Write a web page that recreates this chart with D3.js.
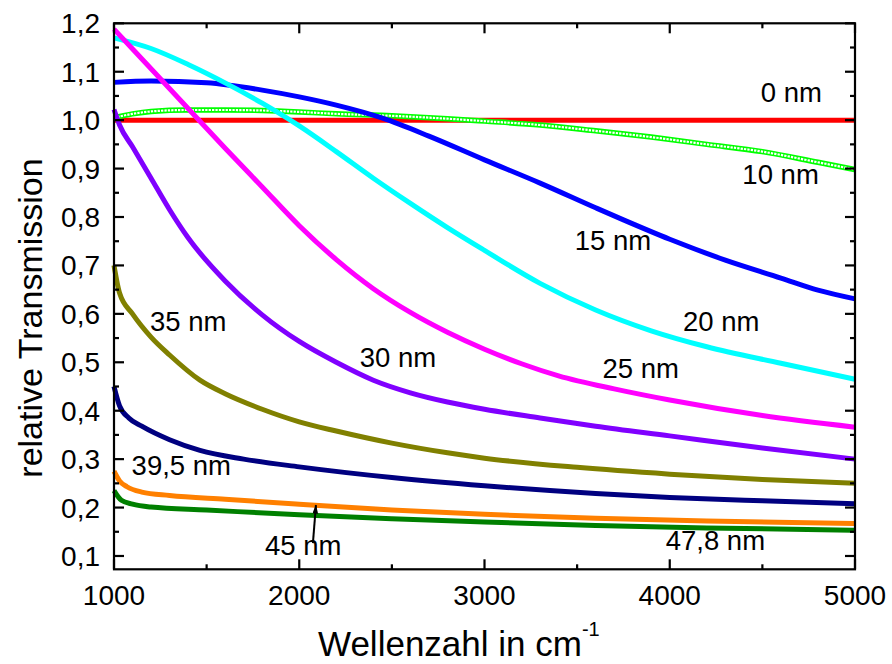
<!DOCTYPE html>
<html>
<head>
<meta charset="utf-8">
<script src="https://cdn.jsdelivr.net/npm/d3@7"></script>
<style>
  html, body { margin: 0; padding: 0; background: #fff; }
  svg { display: block; font-family: "Liberation Sans", Arial, sans-serif; }
</style>
</head>
<body>
<svg id="chart" width="892" height="664"></svg>
<script>
// Wavenumber (cm^-1) and relative transmission for each layer thickness
const wn0  = [1000, 2000, 3000, 4000, 5000];
const t0   = [1.0, 1.0, 1.0, 1.0, 1.0];

const wn10 = [1000, 1100, 1200, 1400, 1600, 1800, 2000, 2200, 2500, 2800, 3000, 3300, 3600, 3900, 4200, 4500, 4800, 5000];
const t10  = [1.005, 1.013, 1.018, 1.021, 1.021, 1.02, 1.017, 1.013, 1.009, 1.003, 0.998, 0.99, 0.978, 0.965, 0.95, 0.935, 0.913, 0.898];

const wn15 = [1000, 1200, 1500, 1800, 2000, 2200, 2450, 2700, 3000, 3300, 3600, 3750, 4000, 4300, 4600, 4800, 5000];
const t15  = [1.078, 1.081, 1.077, 1.062, 1.048, 1.031, 1.004, 0.967, 0.918, 0.87, 0.819, 0.794, 0.754, 0.711, 0.674, 0.649, 0.631];

const wn20 = [1000, 1200, 1400, 1600, 1800, 2000, 2200, 2400, 2600, 2800, 3000, 3300, 3600, 3900, 4200, 4600, 5000];
const t20  = [1.17, 1.148, 1.115, 1.077, 1.035, 0.988, 0.935, 0.88, 0.828, 0.778, 0.731, 0.663, 0.608, 0.565, 0.532, 0.498, 0.465];

const wn25 = [1000, 1200, 1400, 1600, 1800, 2000, 2200, 2400, 2600, 2800, 3000, 3200, 3400, 3700, 4000, 4500, 5000];
const t25  = [1.188, 1.106, 1.024, 0.942, 0.862, 0.782, 0.712, 0.652, 0.603, 0.562, 0.527, 0.497, 0.472, 0.445, 0.422, 0.39, 0.366];

const wn30 = [1000, 1030, 1100, 1200, 1300, 1400, 1600, 1800, 2000, 2200, 2400, 2600, 2800, 3000, 3300, 3600, 4000, 4500, 5000];
const t30  = [1.022, 0.99, 0.945, 0.88, 0.815, 0.757, 0.668, 0.598, 0.543, 0.5, 0.463, 0.437, 0.418, 0.403, 0.385, 0.368, 0.348, 0.323, 0.3];

const wn35 = [1000, 1030, 1100, 1200, 1300, 1464, 1600, 1800, 2000, 2200, 2500, 2800, 3000, 3500, 4000, 4500, 5000];
const t35  = [0.7, 0.643, 0.6, 0.552, 0.515, 0.463, 0.435, 0.403, 0.377, 0.358, 0.333, 0.313, 0.302, 0.283, 0.269, 0.258, 0.25];

const wn39 = [1000, 1030, 1080, 1150, 1300, 1464, 1700, 2000, 2500, 3000, 3600, 4000, 4500, 5000];
const t39  = [0.45, 0.41, 0.385, 0.368, 0.34, 0.318, 0.3, 0.284, 0.262, 0.245, 0.229, 0.221, 0.214, 0.208];

const wn45 = [1000, 1030, 1070, 1150, 1300, 1600, 2000, 2500, 3000, 3600, 4200, 5000];
const t45  = [0.275, 0.255, 0.243, 0.232, 0.225, 0.217, 0.207, 0.195, 0.186, 0.178, 0.172, 0.167];

const wn478 = [1000, 1040, 1100, 1200, 1500, 2000, 2500, 3000, 3600, 4200, 5000];
const t478  = [0.235, 0.215, 0.207, 0.201, 0.195, 0.185, 0.177, 0.17, 0.163, 0.158, 0.153];

// Series: name, data, colour, label text and label anchor (x value, y value)
const seriesNames  = ["0 nm", "10 nm", "15 nm", "20 nm", "25 nm", "30 nm", "35 nm", "39,5 nm", "45 nm", "47,8 nm"];
const seriesX      = [wn0, wn10, wn15, wn20, wn25, wn30, wn35, wn39, wn45, wn478];
const seriesY      = [t0, t10, t15, t20, t25, t30, t35, t39, t45, t478];
const seriesColors = ["#ff0000", "#00ee00", "#0000ff", "#00ffff", "#ff00ff", "#8000ff", "#808000", "#000080", "#ff8000", "#008000"];
const labelX       = [4491, 4392, 3487, 4072, 3637, 2327, 1194, 1095, 1815, 3978];
const labelY       = [1.0375, 0.868, 0.732, 0.565, 0.467, 0.490, 0.565, 0.267, 0.102, 0.112];

// Axis ticks
const xTicks = [1000, 2000, 3000, 4000, 5000];
const xMinor = [1500, 2500, 3500, 4500];
const yTicks = [0.1, 0.2, 0.3, 0.4, 0.5, 0.6, 0.7, 0.8, 0.9, 1.0, 1.1, 1.2];
const yMinor = [0.15, 0.25, 0.35, 0.45, 0.55, 0.65, 0.75, 0.85, 0.95, 1.05, 1.15];

// Arrow pointing from the "45 nm" label to its curve
const arrowX = 2090;
const arrowY = 0.205;

const svg = d3.select("#chart");
const pLeft = 114, pRight = 855, pTop = 23.3, pBottom = 569.3;

const x = d3.scaleLinear().domain([1000, 5000]).range([pLeft, pRight]);
const y = d3.scaleLinear().domain([0.0725, 1.2]).range([pBottom, pTop]);

const fmt = d => d3.format(".1f")(d).replace(".", ",");

// Curves
const plot = svg.append("g");
const line = d3.line().curve(d3.curveMonotoneX).x(d => x(d[0])).y(d => y(d[1]));

seriesNames.forEach((name, i) => {
  const pts = seriesX[i].map((v, j) => [v, seriesY[i][j]]);
  if (i === 1) {
    // hollow square markers: green outline with white interior gaps
    plot.append("path").attr("d", line(pts)).attr("fill", "none")
      .attr("stroke", "#00ff00").attr("stroke-width", 5.5);
    plot.append("path").attr("d", line(pts)).attr("fill", "none")
      .attr("stroke", "#fff").attr("stroke-width", 2.2)
      .attr("stroke-dasharray", "2.3,1.1");
  } else {
    plot.append("path").attr("d", line(pts)).attr("fill", "none")
      .attr("stroke", seriesColors[i]).attr("stroke-width", 5)
      .attr("stroke-linejoin", "round");
  }
});

// Frame
svg.append("rect").attr("x", pLeft).attr("y", pTop)
  .attr("width", pRight - pLeft).attr("height", pBottom - pTop)
  .attr("fill", "none").attr("stroke", "#000").attr("stroke-width", 2.2);

// Ticks (inward on all four sides)
const axes = svg.append("g").attr("stroke", "#000").attr("stroke-width", 2.2);
const drawX = (vals, len) => vals.forEach(v => {
  axes.append("line").attr("x1", x(v)).attr("x2", x(v)).attr("y1", pBottom).attr("y2", pBottom - len);
  axes.append("line").attr("x1", x(v)).attr("x2", x(v)).attr("y1", pTop).attr("y2", pTop + len);
});
const drawY = (vals, len) => vals.forEach(v => {
  axes.append("line").attr("y1", y(v)).attr("y2", y(v)).attr("x1", pLeft).attr("x2", pLeft + len);
  axes.append("line").attr("y1", y(v)).attr("y2", y(v)).attr("x1", pRight).attr("x2", pRight - len);
});
drawX(xTicks, 10); drawX(xMinor, 5);
drawY(yTicks, 10); drawY(yMinor, 5);

// Tick labels
svg.append("g").selectAll("text").data(xTicks).join("text")
  .attr("x", d => x(d)).attr("y", 605)
  .attr("text-anchor", "middle").attr("font-size", 28).text(d => d);
svg.append("g").selectAll("text").data(yTicks).join("text")
  .attr("x", 100).attr("y", d => y(d) + 10)
  .attr("text-anchor", "end").attr("font-size", 28).text(fmt);

// Axis titles
const xt = svg.append("text").attr("x", 318).attr("y", 656).attr("font-size", 35);
xt.append("tspan").text("Wellenzahl in cm");
xt.append("tspan").attr("font-size", 20).attr("dy", -20).text("-1");

svg.append("text").attr("transform", "translate(42,318) rotate(-90)")
  .attr("text-anchor", "middle").attr("font-size", 34).text("relative Transmission");

// Series labels
svg.append("g").selectAll("text").data(seriesNames).join("text")
  .attr("x", (d, i) => x(labelX[i])).attr("y", (d, i) => y(labelY[i]))
  .attr("font-size", 27.5).text(d => d);

// Arrow
const defs = svg.append("defs");
defs.append("marker").attr("id", "head").attr("viewBox", "0 0 10 16")
  .attr("refX", 15).attr("refY", 5).attr("markerWidth", 7).attr("markerHeight", 4.5)
  .attr("markerUnits", "strokeWidth").attr("orient", "auto")
  .append("path").attr("d", "M0,0L16,5L0,10Z").attr("fill", "#000");
svg.append("line")
  .attr("x1", x(arrowX) - 3).attr("y1", y(arrowY) + 38)
  .attr("x2", x(arrowX)).attr("y2", y(arrowY))
  .attr("stroke", "#000").attr("stroke-width", 2).attr("marker-end", "url(#head)");
</script>
</body>
</html>
